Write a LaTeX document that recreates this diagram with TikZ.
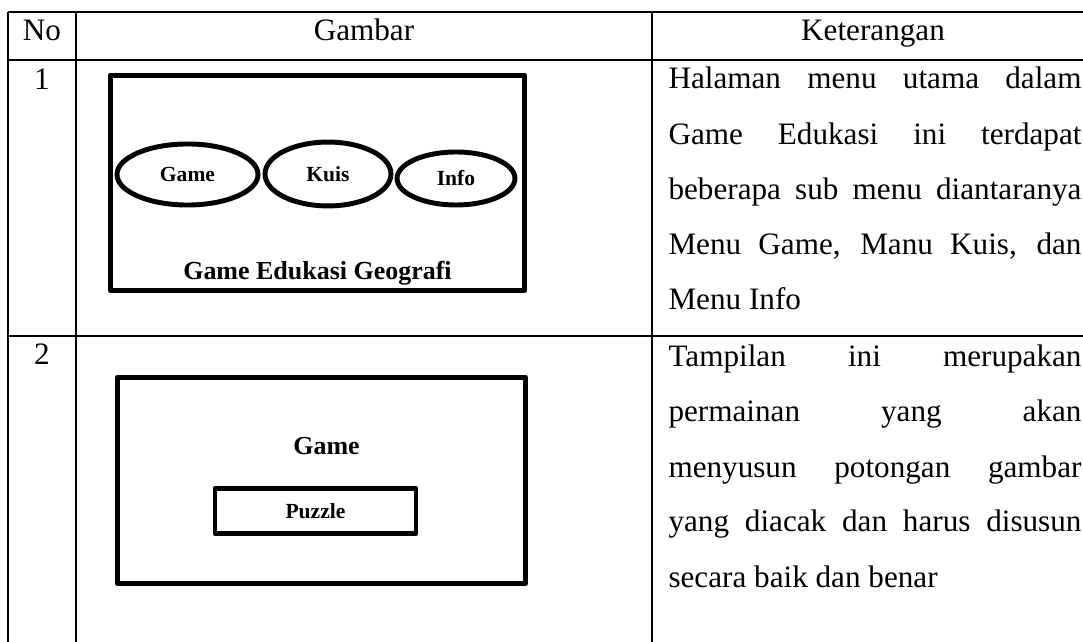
\documentclass[tikz,border=0pt]{standalone}
\usepackage{fontspec}
\setmainfont{Liberation Serif}
\usetikzlibrary{shapes.geometric}
\newcommand{\justline}[1]{\makebox[159pt][s]{#1}}
\begin{document}
\begin{tikzpicture}[x=0.385pt, y=-0.385pt,
  grid/.style={line width=0.8pt},
  frame/.style={line width=2pt, line join=round},
  menu/.style={ellipse, draw, line width=1.9pt, inner sep=0pt,
    font=\fontsize{8.3}{10}\selectfont\bfseries},
  button/.style={draw, line width=1.9pt, line join=round, inner sep=0pt,
    font=\fontsize{8.3}{10}\selectfont\bfseries},
  title/.style={anchor=base, inner sep=0pt, font=\fontsize{10}{12}\selectfont\bfseries},
  cell/.style={anchor=base, inner sep=0pt, font=\fontsize{12}{14}\selectfont},
  descline/.style={anchor=base west, inner sep=0pt, font=\fontsize{12}{14}\selectfont},
]
\clip (0,0) rectangle (1083,642);
\fill[white] (0,0) rectangle (1083,642);

% table rules
\draw[grid] (8,12) -- (1100,12);
\draw[grid] (8,60) -- (1100,60);
\draw[grid] (8,336) -- (1100,336);
\draw[grid] (8,12) -- (8,660);
\draw[grid] (76,12) -- (76,660);
\draw[grid] (652,12) -- (652,660);

% header and row numbers
\node[cell] (hno) at (42,41) {No};
\node[cell] (hgam) at (364,41) {Gambar};
\node[cell] (hket) at (873,41) {Keterangan};
\node[cell] (n1) at (42,90) {1};
\node[cell] (n2) at (42,365) {2};

% main menu screen
\draw[frame] (110.5,75.5) rectangle (524.5,290.5);
\node[menu, minimum width=54.3pt, minimum height=23.5pt] (mgame) at (187.5,174.5) {\raisebox{-0.6pt}{Game}};
\node[menu, minimum width=48.5pt, minimum height=24.6pt] (mkuis) at (328,174) {\raisebox{-0.6pt}{Kuis}};
\node[menu, minimum width=45.4pt, minimum height=20.4pt] (minfo) at (456,178.5) {\raisebox{-0.6pt}{Info}};
\node[title] (t1) at (317.5,280) {Game Edukasi Geografi};

% game screen
\draw[frame] (117.5,377.5) rectangle (525.5,583.5);
\node[title] (t2) at (326.5,455) {Game};
\node[button, minimum width=77.4pt, minimum height=17.3pt] (puzzle) at (315.5,511) {Puzzle};

% descriptions
\node[descline] (d1a) at (668,89) {\justline{Halaman menu utama dalam}};
\node[descline] (d1b) at (668,145) {\justline{Game Edukasi ini terdapat}};
\node[descline] (d1c) at (668,200) {\justline{beberapa sub menu diantaranya}};
\node[descline] (d1d) at (668,255) {\justline{Menu Game, Manu Kuis, dan}};
\node[descline] (d1e) at (668,310) {Menu Info};

\node[descline] (d2a) at (668,367) {\justline{Tampilan ini merupakan}};
\node[descline] (d2b) at (668,422) {\justline{permainan yang akan}};
\node[descline] (d2c) at (668,477) {\justline{menyusun potongan gambar}};
\node[descline] (d2d) at (668,532) {\justline{yang diacak dan harus disusun}};
\node[descline] (d2e) at (668,587) {secara baik dan benar};
\end{tikzpicture}
\end{document}
